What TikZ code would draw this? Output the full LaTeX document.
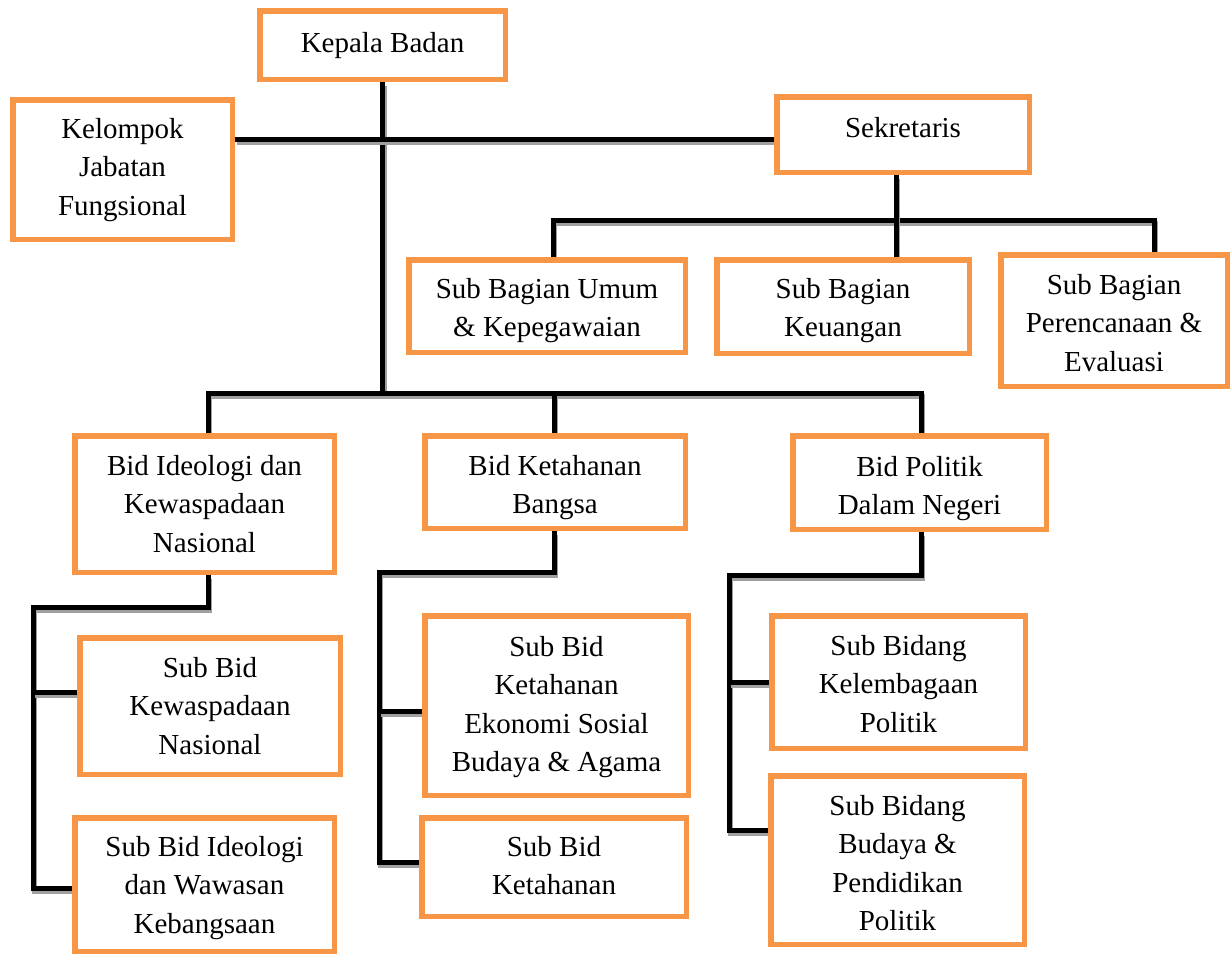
\documentclass[tikz,border=0pt]{standalone}
\usepackage{fontspec}
\setmainfont{Liberation Serif}
\usetikzlibrary{backgrounds}
\definecolor{boxorange}{RGB}{247,150,70}
\definecolor{shadowgray}{RGB}{160,160,160}
\tikzset{
  orgbox/.style={rectangle, draw=boxorange, line width=5.5pt, fill=white, inner sep=0pt},
  orgtext/.style={inner sep=0pt, align=center, font=\fontsize{29}{38.5}\selectfont},
  conn/.style={line width=5pt, draw=black, line join=miter,
    preaction={draw=shadowgray, line width=5pt, transform canvas={xshift=1.5pt,yshift=-3.5pt}}}
}
% #1 name, #2 left, #3 right, #4 top, #5 bottom, #6 first baseline, #7 text
\newcommand{\orgbox}[7]{%
  \pgfmathsetmacro\obw{#3-#2-5.5}\pgfmathsetmacro\obh{#5-#4-5.5}%
  \pgfmathsetmacro\obx{(#2+#3)/2}\pgfmathsetmacro\oby{(#4+#5)/2}%
  \pgfmathsetmacro\obt{#6-20}%
  \node[orgbox, minimum width=\obw pt, minimum height=\obh pt] (#1) at (\obx,\oby) {};
  \node[orgtext, anchor=north] (#1-t) at (\obx,\obt) {#7};
}
\begin{document}
\begin{tikzpicture}[x=1pt,y=-1pt]
\useasboundingbox (0,0) rectangle (1231,956);

\orgbox{kb}{257}{508}{8}{82}{52}{Kepala Badan}
\orgbox{kjf}{10}{235}{97}{242}{138}{Kelompok\\Jabatan\\Fungsional}
\orgbox{sek}{774}{1032}{94}{175}{137}{Sekretaris}
\orgbox{sbu}{406}{688}{257}{355}{298}{Sub Bagian Umum\\\& Kepegawaian}
\orgbox{sbk}{714}{972}{257}{356}{298}{Sub Bagian\\Keuangan}
\orgbox{sbp}{998}{1230}{252}{389}{294}{Sub Bagian\\Perencanaan \&\\Evaluasi}
\orgbox{bik}{72}{337}{433}{575}{475}{Bid Ideologi dan\\Kewaspadaan\\Nasional}
\orgbox{bkb}{422}{688}{433}{531}{475}{Bid Ketahanan\\Bangsa}
\orgbox{bpd}{790}{1049}{433}{532}{476}{Bid Politik\\Dalam Negeri}
\orgbox{sbkn}{77}{343}{635}{777}{677}{Sub Bid\\Kewaspadaan\\Nasional}
\orgbox{sbiw}{72}{337}{815}{954}{856}{Sub Bid Ideologi\\dan Wawasan\\Kebangsaan}
\orgbox{sbke}{422}{691}{613}{798}{656}{Sub Bid\\Ketahanan\\Ekonomi Sosial\\Budaya \& Agama}
\orgbox{sbkt}{419}{689}{815}{919}{856}{Sub Bid\\Ketahanan}
\orgbox{sbkp}{769}{1028}{613}{751}{655}{Sub Bidang\\Kelembagaan\\Politik}
\orgbox{sbbp}{768}{1027}{773}{947}{815}{Sub Bidang\\Budaya \&\\Pendidikan\\Politik}

% helper coordinates
\coordinate (yH) at (0,139);
\coordinate (yS) at (0,220);
\coordinate (yB) at (0,393);
\coordinate (xU) at (553,0);
\coordinate (xK) at (896,0);
\coordinate (xP) at (1154,0);
\coordinate (xI) at (208,0);
\coordinate (xKt) at (554,0);
\coordinate (xPol) at (921,0);
\coordinate (y1) at (0,607);
\coordinate (ya1) at (0,692);
\coordinate (yb1) at (0,888);
\coordinate (xL1) at (33,0);
\coordinate (y2) at (0,572);
\coordinate (ya2) at (0,711);
\coordinate (yb2) at (0,862);
\coordinate (xL2) at (379,0);
\coordinate (y3) at (0,575);
\coordinate (ya3) at (0,682);
\coordinate (yb3) at (0,830);
\coordinate (xL3) at (729,0);

\begin{scope}[on background layer]
  % Kepala Badan trunk
  \draw[conn] (kb.south) -- (kb.south |- yB);
  % Kelompok -- Sekretaris
  \draw[conn] (kjf.east |- yH) -- (sek.west |- yH);
  % Sekretaris subtree
  \draw[conn] (sbu.north -| xU) -- (xU |- yS) -- (xP |- yS) -- (sbp.north -| xP);
  \draw[conn] (sek.south -| xK) -- (sbk.north -| xK);
  % Bidang bar
  \draw[conn] (bik.north -| xI) -- (xI |- yB) -- (xPol |- yB) -- (bpd.north -| xPol);
  \draw[conn] (bkb.north -| xKt) -- (xKt |- yB);
  % Bid Ideologi subtree
  \draw[conn] (bik.south -| xI) -- (xI |- y1) -- (xL1 |- y1) -- (xL1 |- yb1) -- (sbiw.west |- yb1);
  \draw[conn] (xL1 |- ya1) -- (sbkn.west |- ya1);
  % Bid Ketahanan subtree
  \draw[conn] (bkb.south -| xKt) -- (xKt |- y2) -- (xL2 |- y2) -- (xL2 |- yb2) -- (sbkt.west |- yb2);
  \draw[conn] (xL2 |- ya2) -- (sbke.west |- ya2);
  % Bid Politik subtree
  \draw[conn] (bpd.south -| xPol) -- (xPol |- y3) -- (xL3 |- y3) -- (xL3 |- yb3) -- (sbbp.west |- yb3);
  \draw[conn] (xL3 |- ya3) -- (sbkp.west |- ya3);
\end{scope}
\end{tikzpicture}
\end{document}
